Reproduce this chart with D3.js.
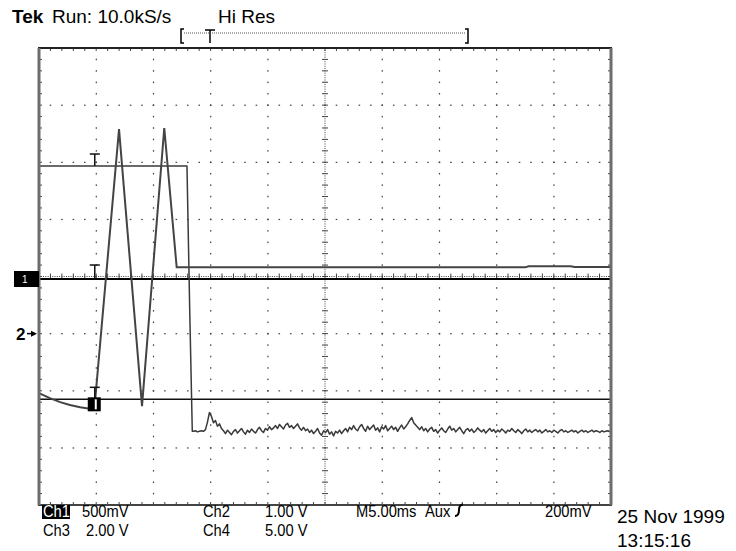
<!DOCTYPE html>
<html><head><meta charset="utf-8">
<script src="https://cdn.jsdelivr.net/npm/d3@7"></script>
<style>body{margin:0;background:#fff}svg{display:block}</style>
</head><body><svg id="c" width="736" height="551"></svg>
<script>
// ---- data (graticule divisions: 10 horizontal x 8 vertical, centre = 0) ----
const headerLabels = ["Tek", "Run: 10.0kS/s", "Hi Res"];
const bottomRow1 = ["500mV", "Ch2", "1.00 V", "M5.00ms", "Aux", "200mV"];
const bottomRow2 = ["2.00 V", "Ch4", "5.00 V"];
const dateLabels = ["25 Nov 1999", "13:15:16"];

const squareX = [0, 2.587, 2.635, 2.68];
const squareY = [1.934, 1.934, -0.59, -2.71];
const noiseX0 = 2.70, noiseStep = 0.035;
const noiseY = [
 -2.71,-2.70,-2.72,-2.71,-2.70,-2.71,-2.68,
 -2.55,-2.38,
 -2.45,-2.56,-2.52,-2.62,-2.58,-2.66,
 -2.70,-2.75,-2.69,-2.73,-2.77,-2.71,-2.68,-2.74,-2.70,-2.66,-2.72,-2.76,-2.69,-2.73,-2.67,-2.71,-2.74,-2.68,-2.64,-2.70,-2.73,-2.66,-2.69,-2.63,-2.68,-2.65,
 -2.61,-2.66,-2.59,-2.63,-2.67,-2.60,-2.57,-2.64,-2.61,-2.66,-2.62,-2.58,-2.65,-2.69,-2.64,
 -2.70,-2.67,-2.73,-2.69,-2.75,-2.71,-2.66,-2.74,-2.78,-2.70,-2.73,-2.68,-2.76,-2.72,-2.79,-2.71,-2.74,-2.69,-2.75,-2.70,
 -2.66,-2.72,-2.64,-2.68,-2.61,-2.67,-2.70,-2.63,-2.59,-2.66,-2.71,-2.62,-2.68,-2.64,-2.60,-2.69,-2.65,-2.72,-2.63,-2.67,-2.61,-2.70,-2.66,-2.62,-2.68,-2.64,-2.71,-2.65,-2.60,-2.67,-2.63,-2.58,
 -2.52,-2.47,-2.56,-2.60,-2.64,
 -2.68,-2.63,-2.70,-2.66,-2.72,-2.67,-2.64,-2.71,-2.68,-2.74,
 -2.69,-2.65,-2.70,-2.73,-2.67,-2.62,-2.69,-2.66,-2.72,-2.68,
 -2.64,-2.70,-2.75,-2.69,-2.66,-2.71,-2.67,-2.73,-2.70,-2.65,
 -2.69,-2.72,-2.68,-2.74,-2.70,-2.66,-2.71,-2.68,-2.73,-2.69,
 -2.72,-2.67,-2.70,-2.74,-2.69,-2.71,-2.66,-2.70,-2.73,-2.68,
 -2.71,-2.75,-2.70,-2.67,-2.72,-2.69,-2.73,-2.70,-2.68,-2.72,
 -2.69,-2.74,-2.71,-2.68,-2.72,-2.70,-2.73,-2.69,-2.71,-2.74,
 -2.70,-2.68,-2.72,-2.70,-2.73,-2.71,-2.69,-2.72,-2.70,-2.74,
 -2.71,-2.69,-2.72,-2.70,-2.73,-2.71,-2.69,-2.72,-2.70,-2.71,
 -2.73,-2.70,-2.72,-2.71,-2.70,-2.72
];
const triX = [0, 0.19, 0.37, 0.54, 0.72, 0.86, 0.97, 1.399, 1.801, 2.19, 2.407, 8.50, 8.56, 9.30, 9.36, 10];
const triY = [-2.04, -2.13, -2.20, -2.25, -2.29, -2.31, -2.30, 2.58, -2.27, 2.60, 0.16, 0.16, 0.18, 0.18, 0.165, 0.165];
const ch1Level = -0.044;
const ch3Level = -2.15;
const ch2Marker = -1.0;
const cursorX = 0.975;

// ---- scales ----
const svg = d3.select("#c");
const x = d3.scaleLinear().domain([0, 10]).range([39, 611]);
const y = d3.scaleLinear().domain([-4, 4]).range([505, 48]);
const minorX = d3.range(0, 51).map(i => i / 5);
const minorY = d3.range(-20, 21).map(i => i / 5);
const fine = n => d3.range(0, n * 25 + 1).map(i => i / 25);

const grid = svg.append("g").attr("fill", "#444");
for (let k = 1; k < 10; k++) {
  if (k === 5) continue;
  grid.selectAll(null).data(minorY.slice(1, -1)).enter().append("rect")
    .attr("x", x(k) - 0.5).attr("y", d => y(d) - 0.75).attr("width", 1.2).attr("height", 1.6);
}
for (let k = -3; k <= 3; k++) {
  if (k === 0) continue;
  grid.selectAll(null).data(minorX.slice(1, -1)).enter().append("rect")
    .attr("x", d => x(d) - 0.75).attr("y", y(k) - 0.5).attr("width", 1.6).attr("height", 1.2);
}
grid.selectAll(null).data(fine(8).map(v => v - 4)).enter().append("rect")
  .attr("x", x(5) - 0.5).attr("y", d => y(d) - 0.5).attr("width", 1).attr("height", 1);
grid.selectAll(null).data(fine(10)).enter().append("rect")
  .attr("x", d => x(d) - 0.5).attr("y", y(0) - 0.5).attr("width", 1).attr("height", 1);
const ticks = svg.append("g").attr("stroke", "#444").attr("stroke-width", 1);
minorY.slice(1, -1).forEach(v => {
  ticks.append("line").attr("x1", x(5) - 3).attr("x2", x(5) + 3).attr("y1", y(v)).attr("y2", y(v));
  ticks.append("line").attr("x1", x(0)).attr("x2", x(0) + 3).attr("y1", y(v)).attr("y2", y(v));
  ticks.append("line").attr("x1", x(10) - 3).attr("x2", x(10)).attr("y1", y(v)).attr("y2", y(v));
});
minorX.slice(1, -1).forEach(v => {
  ticks.append("line").attr("y1", y(0) - 3).attr("y2", y(0) + 3).attr("x1", x(v)).attr("x2", x(v));
  ticks.append("line").attr("y1", y(4)).attr("y2", y(4) + 3).attr("x1", x(v)).attr("x2", x(v));
  ticks.append("line").attr("y1", y(-4) - 3).attr("y2", y(-4)).attr("x1", x(v)).attr("x2", x(v));
});

// ---- traces ----
const line = d3.line().x(d => x(d[0])).y(d => y(d[1]));
const flat = lv => [[0, lv], [10, lv]];
svg.append("path").attr("d", line(flat(ch3Level))).attr("stroke", "#111").attr("stroke-width", 1.6).attr("fill", "none");
svg.append("path").attr("d", line(flat(ch1Level))).attr("stroke", "#000").attr("stroke-width", 2).attr("fill", "none");

const sq = squareX.map((v, i) => [v, squareY[i]]).concat(noiseY.map((v, i) => [noiseX0 + i * noiseStep, v]));
svg.append("path").attr("d", line(sq)).attr("stroke", "#3a3a3a").attr("stroke-width", 1.5).attr("fill", "none").attr("stroke-linejoin", "round");
const tri = triX.map((v, i) => [v, triY[i]]);
svg.append("path").attr("d", line(tri)).attr("stroke", "#444").attr("stroke-width", 2).attr("fill", "none");

// ---- borders ----
svg.append("line").attr("x1", 38).attr("x2", 612).attr("y1", y(4)).attr("y2", y(4)).attr("stroke", "#222").attr("stroke-width", 2);
svg.append("line").attr("x1", 38).attr("x2", 612).attr("y1", y(-4)).attr("y2", y(-4)).attr("stroke", "#444").attr("stroke-width", 2);
svg.append("line").attr("x1", x(0)).attr("x2", x(0)).attr("y1", y(4)).attr("y2", y(-4)).attr("stroke", "#6d6d6d").attr("stroke-width", 3);
svg.append("line").attr("x1", x(10)).attr("x2", x(10)).attr("y1", y(4)).attr("y2", y(-4)).attr("stroke", "#6d6d6d").attr("stroke-width", 3);

// ---- markers ----
const cx = x(cursorX);
function tee(yTop, yBot) {
  svg.append("line").attr("x1", cx - 5).attr("x2", cx + 5).attr("y1", yTop).attr("y2", yTop).attr("stroke", "#111").attr("stroke-width", 1.5);
  svg.append("line").attr("x1", cx).attr("x2", cx).attr("y1", yTop).attr("y2", yBot).attr("stroke", "#111").attr("stroke-width", 1.5);
}
tee(y(squareY[0]) - 12, y(squareY[0]));
tee(y(ch1Level) - 14, y(ch1Level));
tee(y(ch3Level) - 12, y(ch3Level));
svg.append("rect").attr("x", cx - 7).attr("y", y(ch3Level) - 2).attr("width", 13).attr("height", 14).attr("fill", "#000");
svg.append("rect").attr("x", cx).attr("y", y(ch3Level)).attr("width", 2).attr("height", 10).attr("fill", "#fff");

const font = "Liberation Sans, Arial, sans-serif";
svg.append("rect").attr("x", 14).attr("y", y(ch1Level) - 8).attr("width", 25).attr("height", 16).attr("fill", "#000");
svg.append("text").attr("x", 22).attr("y", y(ch1Level) + 4).attr("fill", "#fff").attr("font-size", 10).attr("font-family", font).text("1");
svg.append("text").attr("x", 16).attr("y", y(ch2Marker) + 6).attr("font-size", 17).attr("font-family", font).attr("font-weight", "bold").text("2");
svg.append("line").attr("x1", 27).attr("x2", 35).attr("y1", y(ch2Marker)).attr("y2", y(ch2Marker)).attr("stroke", "#000").attr("stroke-width", 1.5);
svg.append("path").attr("d", `M31,${y(ch2Marker) - 3}L37,${y(ch2Marker)}L31,${y(ch2Marker) + 3}Z`).attr("fill", "#000");

// ---- header ----
svg.append("text").attr("x", 12).attr("y", 23).attr("font-family", font).attr("font-size", 19).attr("font-weight", "bold").text(headerLabels[0]);
svg.append("text").attr("x", 52).attr("y", 23).attr("font-family", font).attr("font-size", 19).text(headerLabels[1]);
svg.append("text").attr("x", 218).attr("y", 23).attr("font-family", font).attr("font-size", 19).text(headerLabels[2]);
const br = svg.append("g").attr("stroke", "#000").attr("stroke-width", 1.5).attr("fill", "none");
br.append("path").attr("d", "M184,29H181V43H184");
br.append("path").attr("d", "M465,29H468V43H465");
svg.append("line").attr("x1", 184).attr("x2", 465).attr("y1", 33).attr("y2", 33).attr("stroke", "#555").attr("stroke-dasharray", "1,1");
br.append("path").attr("d", "M205,30H215M210,30V43");

// ---- bottom text ----
const bt = svg.append("g").attr("font-family", font).attr("font-size", 16);
function label(tx, ty, s, fill) {
  bt.append("text").attr("transform", `translate(${tx},${ty}) scale(0.92,1)`).attr("fill", fill || "#000").text(s);
}
bt.append("rect").attr("x", 42).attr("y", 505).attr("width", 28).attr("height", 14).attr("fill", "#000");
label(43, 517, "Ch1", "#fff");
label(82, 517, bottomRow1[0]);
label(203, 517, bottomRow1[1]);
label(265, 517, bottomRow1[2]);
label(356, 517, bottomRow1[3]);
label(425, 517, bottomRow1[4]);
label(545, 517, bottomRow1[5]);
svg.append("path").attr("d", "M455,516C458,516 459,514 459,510C459,506 460,504.5 463,504.5").attr("stroke", "#000").attr("stroke-width", 2).attr("fill", "none");
label(43, 536, "Ch3");
label(86, 536, bottomRow2[0]);
label(203, 536, bottomRow2[1]);
label(265, 536, bottomRow2[2]);
bt.append("text").attr("x", 617).attr("y", 523).attr("font-size", 19).text(dateLabels[0]);
bt.append("text").attr("x", 617).attr("y", 547).attr("font-size", 19).text(dateLabels[1]);
</script></body></html>
